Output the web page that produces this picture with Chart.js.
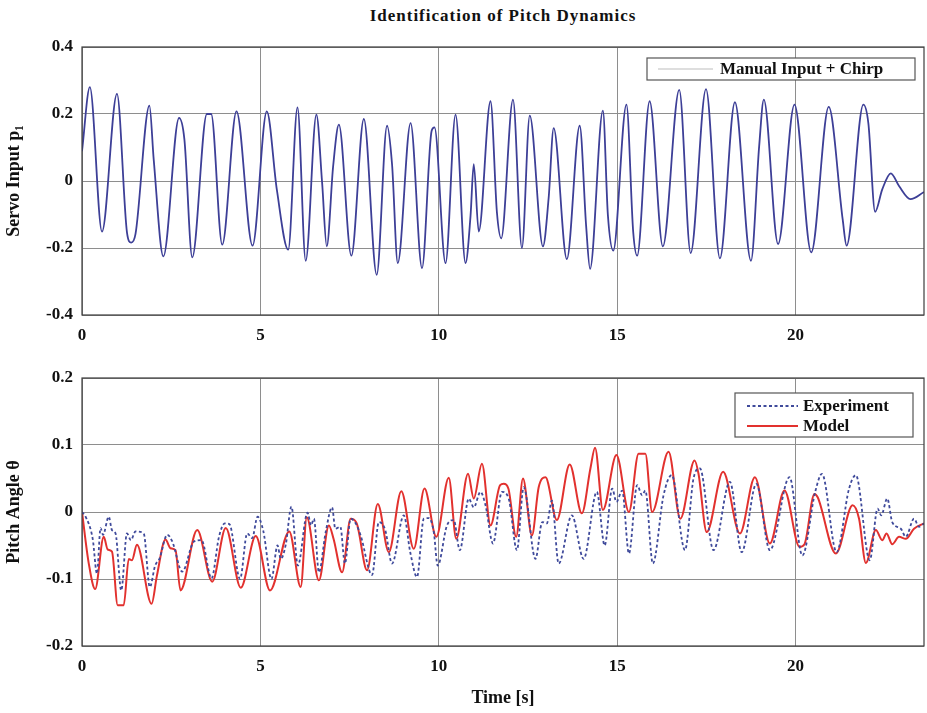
<!DOCTYPE html>
<html>
<head>
<meta charset="utf-8">
<script src="https://cdn.jsdelivr.net/npm/chart.js@4.4.1/dist/chart.umd.min.js"></script>
<style>
  body { margin: 0; background: #fff; }
  #wrap { position: relative; width: 927px; height: 713px; }
  #title { position: absolute; top: 6px; left: 82px; width: 842px; text-align: center; letter-spacing: 1px;
           font: bold 17px "Liberation Serif", "DejaVu Serif", serif; color: #111; }
  canvas { position: absolute; left: 0; }
</style>
</head>
<body>
<div id="wrap">
  <div id="title">Identification of Pitch Dynamics</div>
  <canvas id="servoChart" width="927" height="350" style="top:0"></canvas>
  <canvas id="pitchChart" width="927" height="363" style="top:350px"></canvas>
</div>
<script>
const FONT = "'Liberation Serif', 'DejaVu Serif', serif";

/* DATA */
const servoTime = [0, 0.22, 0.56, 0.98, 1.26, 1.38, 1.5, 1.89, 2.01, 2.28, 2.72, 2.87, 3.09, 3.5, 3.62, 3.93,
  4.33, 4.78, 5.18, 5.46, 5.78, 6.04, 6.27, 6.57, 6.73, 6.86, 7.04, 7.2, 7.55, 7.9, 8.26, 8.55, 8.69, 8.85,
  9.21, 9.53, 9.8, 9.88, 10.19, 10.47, 10.75, 10.89, 10.98, 11.12, 11.45, 11.63, 11.75, 12.08, 12.33, 12.55,
  12.92, 13.08, 13.22, 13.59, 13.95, 14.13, 14.24, 14.6, 14.74, 14.89, 15.26, 15.45, 15.56, 15.91, 16.28,
  16.74, 17.06, 17.49, 17.88, 18.3, 18.75, 18.98, 19.11, 19.51, 19.97, 20.44, 20.93, 21.32, 21.43, 21.9,
  22.04, 22.23, 22.43, 22.67, 22.9, 23.22, 23.6];
const servoInput = [0.089, 0.28, -0.151, 0.26, -0.153, -0.184, -0.158, 0.225, 0.064, -0.225, 0.188, 0.124,
  -0.228, 0.2, 0.2, -0.19, 0.208, -0.193, 0.208, -0.025, -0.205, 0.22, -0.238, 0.198, -0.005, -0.195, 0.045,
  0.168, -0.223, 0.185, -0.28, 0.165, 0.05, -0.245, 0.173, -0.26, 0.15, 0.16, -0.245, 0.198, -0.245, -0.104,
  0.05, -0.151, 0.238, -0.094, -0.171, 0.243, -0.2, 0.195, -0.195, -0.05, 0.158, -0.233, 0.165, -0.134,
  -0.262, 0.21, -0.102, -0.208, 0.228, -0.153, -0.223, 0.238, -0.195, 0.272, -0.215, 0.274, -0.231, 0.235,
  -0.238, 0.104, 0.243, -0.188, 0.228, -0.213, 0.221, -0.114, -0.193, 0.228, 0.173, -0.092, -0.025, 0.023,
  -0.015, -0.054, -0.033];

const expTime = [0, 0.1, 0.3, 0.42, 0.52, 0.59, 0.75, 0.84, 0.94, 1.1, 1.26, 1.37, 1.5, 1.73, 1.9, 2.05, 2.17,
  2.39, 2.53, 2.81, 3.14, 3.35, 3.63, 3.84, 4.0, 4.13, 4.43, 4.63, 4.77, 4.92, 5.08, 5.31, 5.48, 5.57, 5.71,
  5.87, 6.05, 6.32, 6.42, 6.5, 6.64, 6.83, 7.01, 7.1, 7.24, 7.37, 7.53, 7.67, 7.81, 8.13, 8.32, 8.5, 8.69,
  9.02, 9.2, 9.39, 9.58, 9.72, 9.86, 9.97, 10.23, 10.42, 10.59, 10.84, 10.98, 11.17, 11.31, 11.52, 11.77,
  11.96, 12.19, 12.38, 12.71, 12.9, 13.03, 13.17, 13.36, 13.73, 14.06, 14.43, 14.65, 14.86, 14.98, 15.14,
  15.33, 15.56, 15.7, 15.79, 16.0, 16.3, 16.53, 16.9, 17.14, 17.32, 17.7, 18.16, 18.49, 18.9, 19.28, 19.83,
  20.19, 20.55, 20.74, 21.15, 21.5, 21.69, 22.08, 22.3, 22.4, 22.57, 22.71, 22.95, 23.09, 23.32, 23.46, 23.6];
const expPitch = [0, -0.007, -0.04, -0.092, -0.024, -0.034, -0.007, -0.027, -0.032, -0.117, -0.032, -0.042,
  -0.029, -0.032, -0.112, -0.08, -0.07, -0.034, -0.044, -0.089, -0.044, -0.042, -0.099, -0.037, -0.017,
  -0.018, -0.1, -0.032, -0.039, -0.007, -0.028, -0.1, -0.05, -0.07, -0.049, 0.008, -0.08, -0.001, -0.02,
  -0.01, -0.09, -0.03, 0.007, -0.025, -0.022, -0.077, -0.01, -0.017, -0.035, -0.094, -0.015, -0.027, -0.077,
  -0.005, -0.06, -0.097, -0.01, -0.009, -0.03, -0.08, -0.02, -0.012, -0.057, 0.02, 0.007, 0.03, 0.01, -0.047,
  0.03, 0.02, -0.057, 0.037, -0.07, -0.015, -0.017, 0.017, -0.077, -0.005, -0.07, 0.03, -0.05, 0.035, 0.015,
  0.032, -0.062, 0.04, 0.025, 0.032, -0.077, 0.025, 0.055, -0.057, 0.05, 0.065, -0.057, 0.045, -0.06, 0.042,
  -0.057, 0.052, -0.065, 0.03, 0.057, -0.06, 0.035, 0.055, -0.072, 0.005, -0.005, 0.02, -0.015, -0.025,
  -0.037, -0.01, -0.022, -0.017];

const modelTime = [0, 0.19, 0.37, 0.61, 0.72, 0.84, 1.0, 1.17, 1.31, 1.4, 1.54, 1.95, 2.1, 2.34, 2.48, 2.62,
  2.76, 3.23, 3.65, 4.03, 4.45, 4.87, 5.27, 5.81, 6.13, 6.3, 6.64, 6.92, 7.05, 7.29, 7.53, 7.7, 7.99, 8.29,
  8.6, 8.95, 9.3, 9.6, 9.93, 10.28, 10.49, 10.82, 10.98, 11.21, 11.45, 11.72, 11.82, 11.95, 12.17, 12.36,
  12.61, 12.8, 12.99, 13.31, 13.67, 14.01, 14.25, 14.38, 14.6, 14.98, 15.33, 15.6, 15.79, 15.98, 16.44, 16.77,
  17.17, 17.28, 17.51, 17.97, 18.44, 18.86, 19.28, 19.69, 20.11, 20.25, 20.53, 20.62, 21.13, 21.6, 21.78,
  21.97, 22.25, 22.43, 22.55, 22.71, 22.9, 23.09, 23.32, 23.6];
const modelPitch = [0, -0.077, -0.115, -0.037, -0.056, -0.059, -0.139, -0.139, -0.07, -0.072, -0.049, -0.137,
  -0.095, -0.041, -0.054, -0.057, -0.117, -0.027, -0.104, -0.024, -0.113, -0.036, -0.117, -0.029, -0.112,
  -0.008, -0.102, -0.02, -0.04, -0.09, -0.01, -0.017, -0.087, 0.012, -0.06, 0.031, -0.055, 0.035, -0.037,
  0.051, -0.04, 0.057, 0.02, 0.072, -0.02, 0.04, 0.042, 0.035, -0.037, 0.05, -0.035, 0.037, 0.052, -0.012,
  0.071, -0.002, 0.065, 0.096, 0.003, 0.085, 0.0, 0.087, 0.087, 0.0, 0.09, -0.01, 0.077, 0.057, -0.03, 0.06,
  -0.032, 0.052, -0.047, 0.032, -0.052, -0.048, 0.027, 0.022, -0.062, 0.01, -0.01, -0.076, -0.027, -0.042,
  -0.032, -0.048, -0.037, -0.04, -0.025, -0.017];

const timeTicks = [0, 5, 10, 15, 20];
const servoTicks = [-0.4, -0.2, 0, 0.2, 0.4];
const pitchTicks = [-0.2, -0.1, 0, 0.1, 0.2];

function points(t, v) {
  return t.map((x, i) => ({ x: x, y: v[i] }));
}

/* frame round the plot area, like the original */
const framePlugin = {
  id: "frame",
  afterDraw(chart) {
    const { ctx, chartArea: a } = chart;
    ctx.save();
    ctx.strokeStyle = "#3c3c3c";
    ctx.lineWidth = 1.2;
    ctx.strokeRect(a.left, a.top, a.right - a.left, a.bottom - a.top);
    ctx.restore();
  }
};

/* legend box inside the plot, top right */
const boxLegend = {
  id: "boxLegend",
  afterDraw(chart, args, opts) {
    const { ctx, chartArea: a } = chart;
    const x = a.right - opts.right - opts.width;
    const y = a.top + opts.top;
    ctx.save();
    ctx.fillStyle = "#fff";
    ctx.fillRect(x, y, opts.width, opts.height);
    ctx.strokeStyle = "#555";
    ctx.lineWidth = 1.2;
    ctx.strokeRect(x, y, opts.width, opts.height);
    ctx.font = "bold 17px " + FONT;
    ctx.textBaseline = "middle";
    chart.data.datasets.forEach((ds, i) => {
      const ly = y + opts.rowTop + i * opts.rowGap;
      ctx.strokeStyle = opts.sampleColor || ds.borderColor;
      ctx.lineWidth = opts.sampleColor ? 1 : ds.borderWidth;
      ctx.setLineDash(ds.borderDash || []);
      ctx.beginPath();
      ctx.moveTo(x + opts.lineStart, ly);
      ctx.lineTo(x + opts.lineStart + opts.lineLength, ly);
      ctx.stroke();
      ctx.setLineDash([]);
      ctx.fillStyle = "#111";
      ctx.fillText(ds.label, x + opts.textStart, ly + 1);
    });
    ctx.restore();
  }
};

function xScale(height, title) {
  return {
    type: "linear",
    min: 0,
    max: 23.6,
    afterBuildTicks: s => { s.ticks = timeTicks.map(v => ({ value: v })); },
    afterFit: s => { s.height = height; },
    grid: { color: "#8e8e8e", lineWidth: 1, drawTicks: false },
    border: { display: false },
    ticks: {
      color: "#111",
      padding: 10,
      maxRotation: 0,
      font: { family: FONT, size: 17, weight: "bold" },
      callback: v => String(v)
    },
    title: title
      ? { display: true, text: title, color: "#111", padding: { top: 4, bottom: 4 },
          font: { family: FONT, size: 18, weight: "bold" } }
      : { display: false }
  };
}

function yScale(ticks, title) {
  return {
    min: ticks[0],
    max: ticks[ticks.length - 1],
    afterBuildTicks: s => { s.ticks = ticks.map(v => ({ value: v })); },
    afterFit: s => { s.width = 82; },
    grid: { color: "#8e8e8e", lineWidth: 1, drawTicks: false },
    border: { display: false },
    ticks: {
      color: "#111",
      padding: 9,
      font: { family: FONT, size: 17, weight: "bold" },
      callback: v => String(v)
    },
    title: { display: true, text: title, color: "#111", padding: { top: 4, bottom: 4 },
             font: { family: FONT, size: 18, weight: "bold" } }
  };
}

const lineDefaults = {
  pointRadius: 0,
  fill: false,
  cubicInterpolationMode: "monotone"
};

/* SERVO INPUT */
new Chart(document.getElementById("servoChart"), {
  type: "line",
  data: {
    datasets: [{
      ...lineDefaults,
      label: "Manual Input + Chirp",
      data: points(servoTime, servoInput),
      borderColor: "#3d3f97",
      borderWidth: 1.8
    }]
  },
  options: {
    responsive: false,
    animation: false,
    devicePixelRatio: 1,
    layout: { padding: { top: 47, right: 3, left: 0, bottom: 0 } },
    scales: {
      x: xScale(35),
      y: yScale(servoTicks, "Servo Input p\u2081")
    },
    plugins: {
      legend: { display: false },
      tooltip: { enabled: false },
      boxLegend: { width: 268, height: 22, right: 9, top: 11, rowTop: 11, rowGap: 19,
                   lineStart: 11, lineLength: 55, textStart: 73, sampleColor: "#bdbdbd" }
    }
  },
  plugins: [framePlugin, boxLegend]
});

/* PITCH ANGLE */
new Chart(document.getElementById("pitchChart"), {
  type: "line",
  data: {
    datasets: [{
      ...lineDefaults,
      label: "Experiment",
      data: points(expTime, expPitch),
      borderColor: "#3f4a9b",
      borderWidth: 1.8,
      borderDash: [3, 2.5]
    }, {
      ...lineDefaults,
      label: "Model",
      data: points(modelTime, modelPitch),
      borderColor: "#e2312e",
      borderWidth: 2
    }]
  },
  options: {
    responsive: false,
    animation: false,
    devicePixelRatio: 1,
    layout: { padding: { top: 28, right: 3, left: 0, bottom: 0 } },
    scales: {
      x: xScale(67, "Time [s]"),
      y: yScale(pitchTicks, "Pitch Angle \u03b8")
    },
    plugins: {
      legend: { display: false },
      tooltip: { enabled: false },
      boxLegend: { width: 178, height: 44, right: 11, top: 15, rowTop: 13, rowGap: 20,
                   lineStart: 12, lineLength: 51, textStart: 68 }
    }
  },
  plugins: [framePlugin, boxLegend]
});
</script>
</body>
</html>
